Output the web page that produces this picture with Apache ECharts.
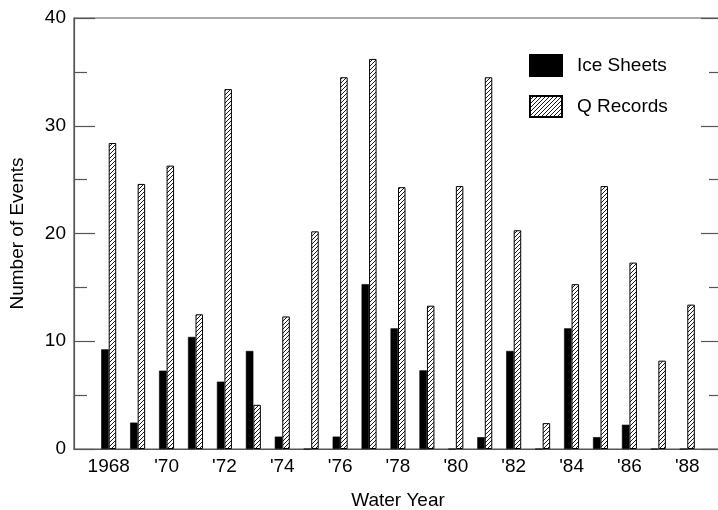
<!DOCTYPE html>
<html>
<head>
<meta charset="utf-8">
<script src="https://cdn.jsdelivr.net/npm/echarts@6/dist/echarts.min.js"></script>
<style>
html,body{margin:0;padding:0;background:#fff;}
#chart{width:718px;height:510px;}
</style>
</head>
<body>
<div id="chart"></div>
<script>
const years = [1968,1969,1970,1971,1972,1973,1974,1975,1976,1977,1978,1979,1980,1981,1982,1983,1984,1985,1986,1987,1988];
const iceSheets = [9.25,2.45,7.27,10.4,6.25,9.1,1.15,0,1.15,15.3,11.2,7.3,0,1.1,9.1,0,11.2,1.1,2.25,0,0];
const qRecords = [28.4,24.6,26.3,12.5,33.4,4.1,12.3,20.2,34.5,36.2,24.3,13.3,24.4,34.5,20.3,2.4,15.3,24.4,17.3,8.2,13.4];
const labelYears = [1968,1970,1972,1974,1976,1978,1980,1982,1984,1986,1988];

// hatch pattern
const pc = document.createElement('canvas');
pc.width = 4; pc.height = 4;
const g = pc.getContext('2d');
g.fillStyle = '#fff'; g.fillRect(0,0,4,4);
g.strokeStyle = '#000'; g.lineWidth = 0.9;
g.beginPath(); g.moveTo(-1,5); g.lineTo(5,-1); g.stroke();
g.beginPath(); g.moveTo(-1,1); g.lineTo(1,-1); g.stroke();
g.beginPath(); g.moveTo(3,5); g.lineTo(5,3); g.stroke();
const hatch = {image: pc, repeat: 'repeat'};

const font = 'Liberation Sans, Arial, Helvetica, sans-serif';
const axisCol = '#555';

const chart = echarts.init(document.getElementById('chart'), null, {renderer:'canvas'});
chart.setOption({
  animation: false,
  backgroundColor: '#fff',
  textStyle: {fontFamily: font},
  grid: {left: 74, top: 18, width: 648, height: 431, show: true, borderColor: axisCol, borderWidth: 1.2, containLabel: false, outerBoundsMode: 'none'},
  legend: {
    orient: 'vertical', left: 529, top: 54, padding: 0, itemWidth: 32, itemHeight: 21, itemGap: 18,
    icon: 'rect',
    textStyle: {fontSize: 19, color: '#000', fontFamily: font, padding: [0,0,0,10]},
    data: ['Ice Sheets', 'Q Records']
  },
  xAxis: {
    type: 'value', min: 1966.8, max: 1989.2,
    name: 'Water Year', nameLocation: 'middle', nameGap: 42,
    nameTextStyle: {fontSize: 19, color: '#000', fontFamily: font},
    axisLine: {show: true, lineStyle: {color: axisCol, width: 1.2}},
    axisTick: {show: false},
    splitLine: {show: false},
    axisLabel: {
      customValues: labelYears, fontSize: 19, color: '#000', margin: 8, fontFamily: font,
      formatter: v => v === labelYears[0] ? String(v) : "'" + String(v).slice(2)
    }
  },
  yAxis: [{
    type: 'value', min: 0, max: 40, interval: 10, position: 'left',
    name: 'Number of Events', nameLocation: 'middle', nameGap: 47, nameRotate: 90,
    nameTextStyle: {fontSize: 19, color: '#000', fontFamily: font},
    axisLine: {show: true, lineStyle: {color: axisCol, width: 1.2}},
    axisTick: {show: true, inside: true, length: 21, lineStyle: {color: axisCol, width: 1.2}},
    minorTick: {show: true, splitNumber: 2, length: 13, lineStyle: {color: axisCol, width: 1.2}},
    splitLine: {show: false},
    axisLabel: {fontSize: 19, color: '#000', margin: 8, fontFamily: font}
  }, {
    type: 'value', min: 0, max: 40, interval: 10, position: 'right',
    axisLine: {show: true, lineStyle: {color: axisCol, width: 1.2}},
    axisTick: {show: true, inside: true, length: 21, lineStyle: {color: axisCol, width: 1.2}},
    minorTick: {show: true, splitNumber: 2, length: 13, lineStyle: {color: axisCol, width: 1.2}},
    splitLine: {show: false},
    axisLabel: {show: false}
  }],
  series: [{
    name: 'Ice Sheets', type: 'bar', barWidth: 7.5, barGap: '0%',
    itemStyle: {color: '#000', borderColor: '#000', borderWidth: 0.6},
    data: years.map((y,i) => [y, iceSheets[i]])
  }, {
    name: 'Q Records', type: 'bar', barWidth: 7.5, barGap: '0%',
    itemStyle: {color: hatch, borderColor: '#000', borderWidth: 1},
    data: years.map((y,i) => [y, qRecords[i]])
  }]
});
</script>
</body>
</html>
